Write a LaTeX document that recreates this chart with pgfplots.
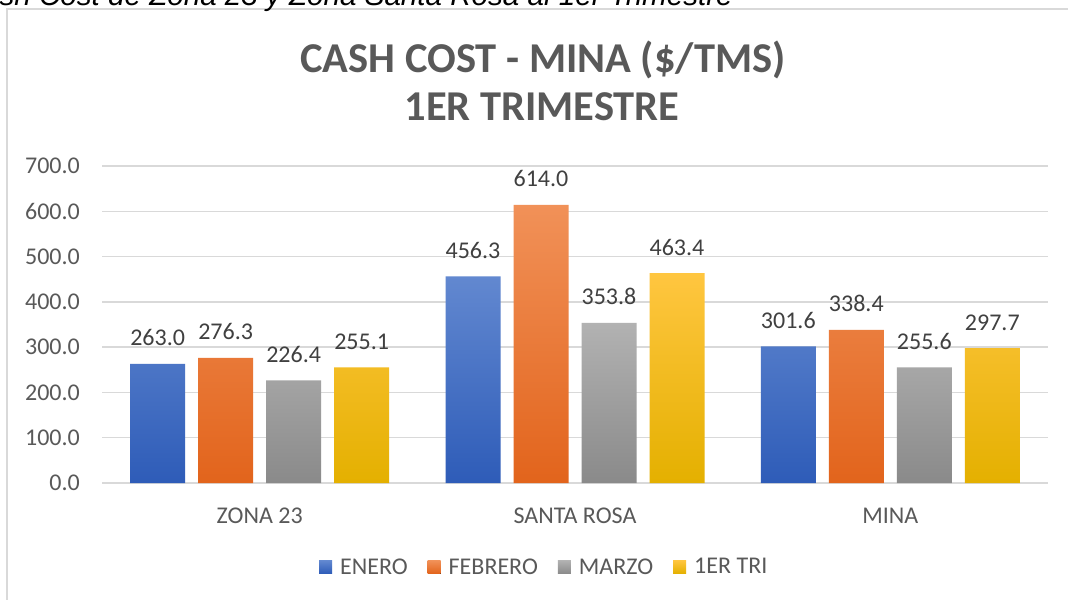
\documentclass[border=0pt]{standalone}
\usepackage{fontspec}
\setmainfont{Carlito}
\newfontfamily\arialfont{Liberation Sans}
\usepackage{pgfplots}
\pgfplotsset{compat=1.18}
\definecolor{gridc}{HTML}{D9D9D9}
\definecolor{txt}{HTML}{595959}
\definecolor{lab}{HTML}{404040}
\definecolor{blueT}{RGB}{98,136,208}
\definecolor{blueB}{RGB}{46,92,184}
\definecolor{oraT}{RGB}{241,145,88}
\definecolor{oraB}{RGB}{226,100,28}
\definecolor{grayT}{RGB}{178,178,178}
\definecolor{grayB}{RGB}{138,138,138}
\definecolor{yelT}{RGB}{255,198,64}
\definecolor{yelB}{RGB}{228,176,0}
\begin{document}
\begin{tikzpicture}[x=1pt,y=1pt]
\useasboundingbox (0,0) rectangle (1068,600);
\begin{scope}
\clip (0,0) rectangle (1068,600);
\fill[white] (0,0) rectangle (1068,600);
\draw[gridc, line width=1.5pt] (1068,591) -- (7,591) -- (7,0);
\node[anchor=base east, inner sep=0pt, font=\arialfont\itshape\fontsize{29.6}{36}\selectfont] at (733,594) {Cash Cost de Zona 23 y Zona Santa Rosa al 1er Trimestre};
\end{scope}
\node[anchor=base, inner sep=0pt, text=txt, font=\bfseries\fontsize{42.5}{48}\selectfont] at (543,527) {CASH COST - MINA (\$/TMS)};
\node[anchor=base, inner sep=0pt, text=txt, font=\bfseries\fontsize{42.5}{48}\selectfont] at (542,479) {1ER TRIMESTRE};
\begin{axis}[
  at={(102pt,117pt)}, anchor=south west,
  scale only axis, width=946pt, height=317pt,
  xmin=-0.5, xmax=2.5, ymin=0, ymax=700,
  ytick={0,100,...,700},
  xtick={0,1,2},
  xticklabels={ZONA 23, SANTA ROSA, MINA},
  ymajorgrids,
  grid style={gridc, line width=1.5pt},
  axis x line*=bottom, axis y line*=left,
  y axis line style={draw=none},
  x axis line style={gridc, line width=1.5pt},
  major tick length=0pt,
  tick style={draw=none},
  /pgf/number format/fixed,
  /pgf/number format/fixed zerofill,
  /pgf/number format/precision=1,
  /pgf/number format/assume math mode=true,
  ticklabel style={font=\fontsize{24}{28}\selectfont, text=txt},
  yticklabel style={anchor=east, inner sep=0pt, xshift=-22pt},
  xticklabel style={anchor=base, inner sep=0pt, yshift=-40pt},
  ybar=13pt, bar width=55pt,
  nodes near coords,
  every node near coord/.append style={font=\fontsize{24}{28}\selectfont, text=lab, anchor=base, yshift=18pt, inner sep=0pt},
  legend columns=4,
  legend style={draw=none, fill=none, at={(0.468,-0.265)}, anchor=center,
    font=\fontsize{24}{28}\selectfont, text=txt,
    nodes={inner xsep=3pt, inner ysep=0pt},
    /tikz/every odd column/.append style={column sep=5pt},
    /tikz/every even column/.append style={column sep=17pt}},
  legend image code/.code={\fill[#1] (0pt,-6.5pt) rectangle (13pt,6.5pt);},
]
\addplot[draw=none, top color=blueT, bottom color=blueB] coordinates {(0,263.0) (1,456.3) (2,301.6)};
\addplot[draw=none, top color=oraT, bottom color=oraB] coordinates {(0,276.3) (1,614.0) (2,338.4)};
\addplot[draw=none, top color=grayT, bottom color=grayB] coordinates {(0,226.4) (1,353.8) (2,255.6)};
\addplot[draw=none, top color=yelT, bottom color=yelB] coordinates {(0,255.1) (1,463.4) (2,297.7)};
\legend{ENERO, FEBRERO, MARZO, 1ER TRI}
\end{axis}
\end{tikzpicture}
\end{document}
